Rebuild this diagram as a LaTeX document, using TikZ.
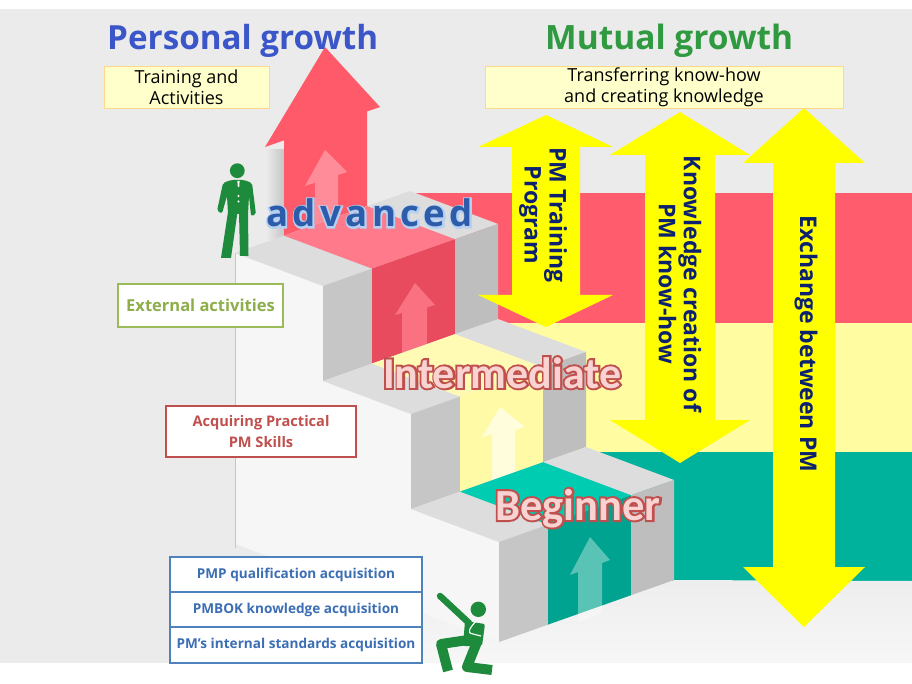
\documentclass[tikz,border=0pt]{standalone}
\usepackage{fontspec}
\setmainfont{Open Sans}
\newfontfamily\calfont{Carlito}
\usepackage{graphicx}
\definecolor{bgG}{HTML}{EBEBEB}
\definecolor{wallW}{HTML}{F6F6F6}
\definecolor{topG}{HTML}{DDDDDD}
\definecolor{riseL}{HTML}{C6C6C6}
\definecolor{riseR}{HTML}{BEBEBE}
\definecolor{floorG}{HTML}{EAEAEA}
\definecolor{redB}{HTML}{FF5D6D}
\definecolor{redF}{HTML}{E84A5E}
\definecolor{redT}{HTML}{FF7B8B}
\definecolor{redA}{HTML}{FF5A6A}
\definecolor{yelB}{HTML}{FFFCA2}
\definecolor{yelF}{HTML}{FFFAA6}
\definecolor{yelT}{HTML}{FFFBB4}
\definecolor{tealB}{HTML}{00B19C}
\definecolor{tealF}{HTML}{00A38F}
\definecolor{tealT}{HTML}{00CCB1}
\definecolor{arrY}{HTML}{FFFF00}
\definecolor{navyT}{HTML}{0C2170}
\definecolor{manG}{HTML}{1E8B3C}
\definecolor{persB}{HTML}{3A56C8}
\definecolor{mutG}{HTML}{2F9A3F}
\definecolor{noteF}{HTML}{FFFFCC}
\definecolor{noteD}{HTML}{FFD88A}
\definecolor{extG}{HTML}{9BBB59}
\definecolor{extT}{HTML}{8DAE4A}
\definecolor{acqR}{HTML}{C0504D}
\definecolor{bluD}{HTML}{4F81BD}
\definecolor{bluT}{HTML}{3C6EB4}
\definecolor{advB}{HTML}{2C5CAA}
\definecolor{advO}{HTML}{B4D0F2}
\definecolor{lvlO}{HTML}{C0504D}
\definecolor{lvlF}{HTML}{F9D3D2}
\newcommand\olt[4]{\rlap{\addfontfeature{FakeBold=#1}\color{#2}#4}{\color{#3}#4}}
\begin{document}
\begin{tikzpicture}[x=1pt,y=-1pt,
  note/.style={draw=noteD, line width=0.8pt, fill=noteF, inner sep=0pt, align=center,
    font=\fontsize{18}{21}\selectfont},
  skill/.style={line width=2pt, fill=white, inner sep=0pt, align=center},
  arrtext/.style={rotate=-90, text=navyT, align=center, inner sep=0pt,
    font=\bfseries\fontsize{23}{25}\selectfont},
  man/.style={fill=manG}]
\useasboundingbox (0,0) rectangle (912,684);
\fill[white] (0,0) rectangle (912,684);
\fill[bgG] (0,9) rectangle (912,663);
% back bands
\fill[redB] (410,193) rectangle (912,323);
\fill[yelB] (498,323) rectangle (912,452);
\fill[tealB] (586,452) rectangle (912,581);
% floor
\shade[top color=floorG, bottom color=floorG!40!white] (235,544) -- (499,642) -- (674,580) -- (912,581) -- (912,663) -- (235,663) -- cycle;
% shadow beside the big arrow
\shade[left color=bgG, right color=riseL] (266,150) rectangle (284,240);
% left wall
\fill[wallW] (235,253) -- (323,286) -- (323,381) -- (411,414) -- (411,509) -- (499,542) -- (499,642) -- (235,544) -- cycle;
\draw[riseL, line width=0.6pt] (235,253) -- (235,548);
% big red arrow
\fill[redA] (284,236) -- (284,140.4) -- (265,147) -- (325,47) -- (380,107) -- (367,111.5) -- (367,206.2) -- cycle;
\fill[redT!70!white, opacity=0.7] (315,236) -- (315,182.7) -- (305,186) -- (325,150) -- (347,172) -- (338,175) -- (338,228) -- cycle;
% step 1
\fill[topG] (235,253) -- (410,191) -- (498,224) -- (323,286) -- cycle;
\fill[redT] (284,235.6) -- (367,206.2) -- (455,239.2) -- (372,268.6) -- cycle;
\fill[riseL] (323,286) -- (372,268.6) -- (372,363.6) -- (323,381) -- cycle;
\fill[redF] (372,268.6) -- (455,239.2) -- (455,334.2) -- (372,363.6) -- cycle;
\fill[riseR] (455,239.2) -- (498,224) -- (498,319) -- (455,334.2) -- cycle;
\fill[redT, opacity=0.8] (402,361) -- (402,313) -- (395,315) -- (415,283) -- (435,305) -- (427,307.5) -- (427,352) -- cycle;
% step 2
\fill[topG] (323,381) -- (498,319) -- (586,352) -- (411,414) -- cycle;
\fill[yelT] (372,363.6) -- (455,334.2) -- (543,367.2) -- (460,396.6) -- cycle;
\fill[riseL] (411,414) -- (460,396.6) -- (460,491.6) -- (411,509) -- cycle;
\fill[yelF] (460,396.6) -- (543,367.2) -- (543,462.2) -- (460,491.6) -- cycle;
\fill[riseR] (543,367.2) -- (586,352) -- (586,447) -- (543,462.2) -- cycle;
\fill[white, opacity=0.6] (492,489) -- (492,434) -- (482,437) -- (500,407) -- (525,427) -- (515,430) -- (515,481) -- cycle;
% step 3
\fill[topG] (411,509) -- (586,447) -- (674,480) -- (499,542) -- cycle;
\fill[tealT] (460,491.6) -- (543,462.2) -- (631,495.2) -- (548,524.6) -- cycle;
\fill[riseL] (499,542) -- (548,524.6) -- (548,624.6) -- (499,642) -- cycle;
\fill[tealF] (548,524.6) -- (631,495.2) -- (631,595.2) -- (548,624.6) -- cycle;
\fill[riseR] (631,495.2) -- (674,480) -- (674,580) -- (631,595.2) -- cycle;
\fill[white, opacity=0.35] (578,622) -- (578,572) -- (570,575) -- (590,537) -- (610,560) -- (602,563) -- (602,613) -- cycle;
% yellow double arrows
\fill[arrY] (546,115) -- (613,147) -- (580,147) -- (580,295) -- (613,295) -- (546,327) -- (478,295) -- (512,295) -- (512,147) -- (478,147) -- cycle;
\fill[arrY] (680,112) -- (750,155) -- (715,155) -- (715,420) -- (750,420) -- (680,463) -- (610,420) -- (645,420) -- (645,155) -- (610,155) -- cycle;
\fill[arrY] (804,108) -- (865,163) -- (835,163) -- (835,567) -- (865,567) -- (804,627) -- (743,567) -- (773,567) -- (773,163) -- (743,163) -- cycle;
\node[arrtext] (atrain) at (543,215) {PM Training\\Program};
\node[arrtext] (aknow) at (680,284) {Knowledge creation of\\PM know-how};
\node[arrtext] (aexch) at (806,344) {Exchange between PM};
% titles
\node[anchor=base west, inner sep=0pt, text=persB, font=\bfseries] (tpers) at (107,50) {\resizebox{271pt}{!}{Personal growth}};
\node[anchor=base west, inner sep=0pt, text=mutG, font=\bfseries] (tmut) at (545,50) {\resizebox{248pt}{!}{Mutual growth}};
\node[note, minimum width=165pt, minimum height=42pt] (ntrain) at (186.5,87) {Training and\\Activities};
\node[note, minimum width=358pt, minimum height=42pt] (ntrans) at (664,87) {Transferring know-how\\and creating knowledge};
% level labels
\node[anchor=base west, inner sep=0pt] (ladv) at (266,227) {\resizebox{207pt}{!}{\fontsize{40}{40}\selectfont\bfseries\addfontfeature{LetterSpace=12}\olt{9}{advO}{advB}{advanced}}};
\node[anchor=base west, inner sep=0pt, font=\calfont\bfseries\fontsize{44}{44}\selectfont] (lint) at (383,388) {\olt{9}{lvlO}{lvlF}{Intermediate}};
\node[anchor=base west, inner sep=0pt, font=\calfont\bfseries\fontsize{44.5}{44.5}\selectfont] (lbeg) at (495,520) {\olt{9}{lvlO}{lvlF}{Beginner}};
% skill boxes
\node[skill, draw=extG, text=extT, minimum width=165pt, minimum height=43pt, font=\bfseries\fontsize{16.5}{20}\selectfont] (bext) at (200.5,305.5) {External activities};
\node[skill, draw=acqR, text=acqR, minimum width=190pt, minimum height=51pt, font=\bfseries\fontsize{14.6}{21}\selectfont] (bacq) at (261,431.5) {Acquiring Practical\\PM Skills};
\node[skill, draw=bluD, text=bluT, minimum width=252pt, minimum height=35pt, font=\bfseries\fontsize{13.6}{16}\selectfont] (bpmp) at (296,574.5) {PMP qualification acquisition};
\node[skill, draw=bluD, text=bluT, minimum width=252pt, minimum height=35pt, font=\bfseries\fontsize{13.6}{16}\selectfont] (bpmbok) at (296,609.5) {PMBOK knowledge acquisition};
\node[skill, draw=bluD, text=bluT, minimum width=252pt, minimum height=36pt, font=\bfseries\fontsize{13.6}{16}\selectfont] (bint) at (296,645) {PM's internal standards acquisition};
% standing man
\fill[man] (237.3,170.7) circle (7.4);
\fill[man, rounded corners=2pt] (223,183) -- (217,211) -- (222,213.5) -- (227,196) -- (228,214) -- (248,214) -- (249,196) -- (251,216) -- (256,214.5) -- (252,183) -- (244,180) -- (231,180) -- cycle;
\fill[man] (228,212) -- (237.5,212) -- (231,258) -- (221,258) -- cycle;
\fill[man] (239,212) -- (248,212) -- (248.5,256) -- (240,256) -- cycle;
\fill[white] (237.4,181) -- (239.6,181) -- (239.2,187) -- (237.8,187) -- cycle;
\fill[white] (238.4,196) circle (1.1) (238.4,201.5) circle (1.1);
% kneeling man
\fill[man] (478.3,609.3) circle (7.7);
\draw[manG, line width=6.5pt, line cap=round] (440,596) -- (469,623);
\fill[man, rounded corners=2pt] (465,621) -- (485,624) -- (482,646) -- (463,646) -- cycle;
\draw[manG, line width=10pt, line join=round] (468,640) -- (441,644) -- (448,671);
\draw[manG, line width=10pt, line join=round] (477,642) -- (467,667) -- (492,670);
\draw[white, line width=1.1pt] (476,621) .. controls (470,628) and (466,633) .. (473,634) -- (481,636);
\end{tikzpicture}
\end{document}
